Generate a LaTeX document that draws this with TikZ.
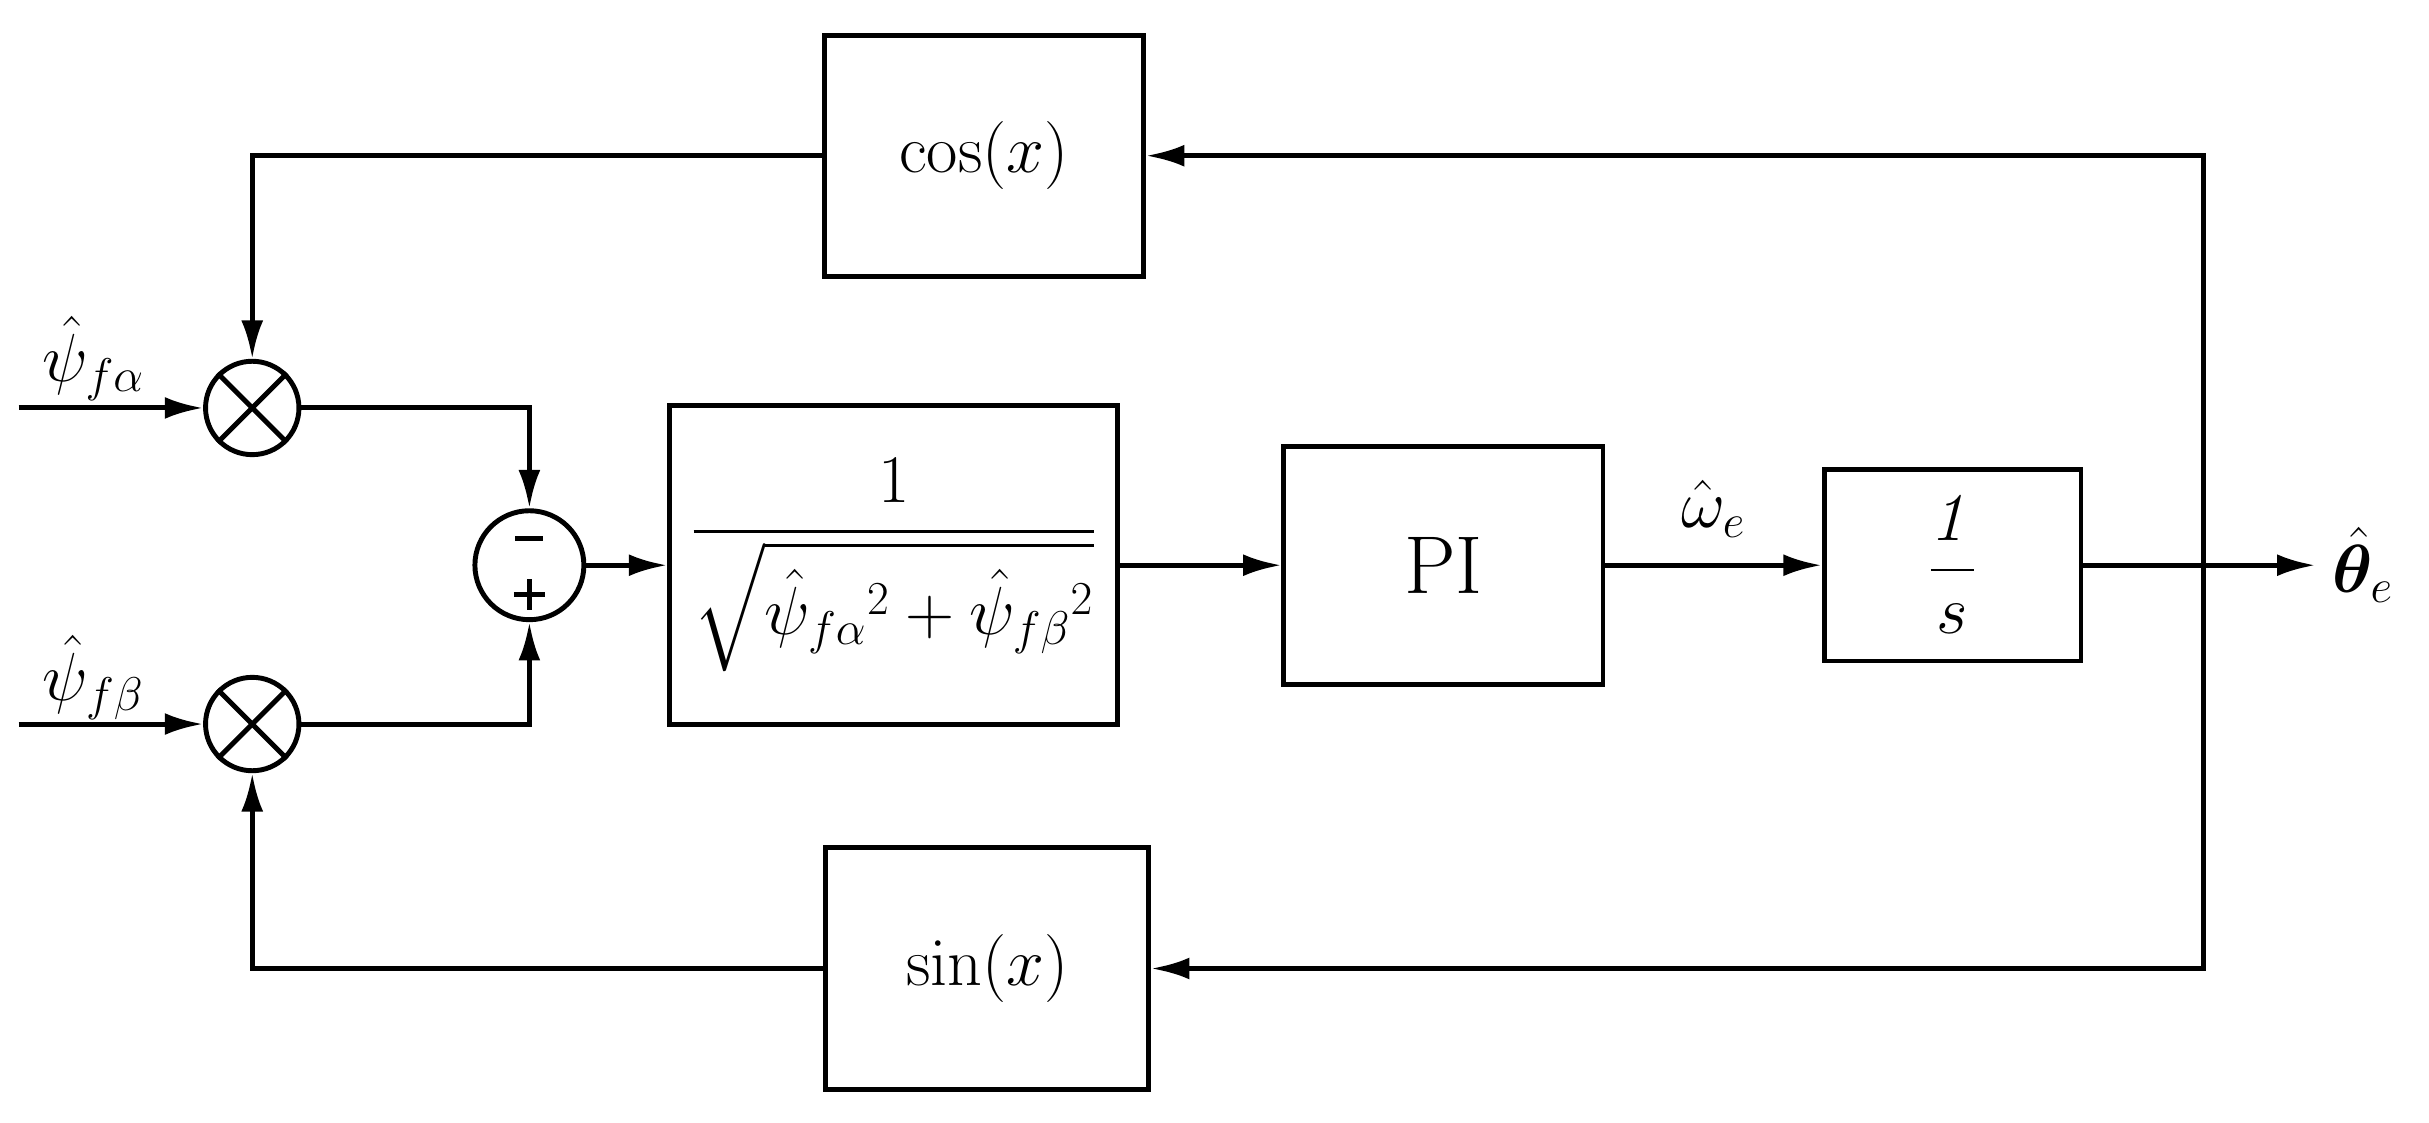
\documentclass[tikz,border=0pt]{standalone}
\usepackage{amsmath,amssymb,bm}
\usetikzlibrary{arrows.meta,calc}
\begin{document}
\begin{tikzpicture}[x=0.02cm,y=-0.02cm,
  line width=1.8pt,
  blk/.style={draw,line width=1.8pt,inner sep=0pt,font=\fontsize{26}{30}\selectfont},
  arr/.style={-{Latex[length=14pt,width=8pt]}},
  lbl/.style={font=\fontsize{26}{30}\selectfont}]
\useasboundingbox (0,0) rectangle (1560,721);
\node[blk,minimum width=4.1cm,minimum height=3.1cm] (cos) at (632,100) {$\cos(x)$};
\node[blk,minimum width=4.15cm,minimum height=3.1cm] (sin) at (634,622) {$\sin(x)$};
\node[blk,minimum width=5.76cm,minimum height=4.1cm] (sq) at (574,363) {$\dfrac{1}{\sqrt{\hat{\psi}_{f\alpha}{}^2+\hat{\psi}_{f\beta}{}^2}}$};
\node[blk,minimum width=4.1cm,minimum height=3.06cm,font=\fontsize{30}{34}\selectfont] (pi) at (927,363) {PI};
\node[blk,minimum width=3.3cm,minimum height=2.46cm] (int) at (1254,363) {$\dfrac{\mathit{1}}{s}$};
\node[draw,circle,minimum size=1.2cm,inner sep=0pt] (m1) at (162,262) {};
\node[draw,circle,minimum size=1.2cm,inner sep=0pt] (m2) at (162,465) {};
\foreach \m in {m1,m2}{
  \draw (\m.45) -- (\m.225); \draw (\m.135) -- (\m.315);}
\node[draw,circle,minimum size=1.4cm,inner sep=0pt] (s) at (340,363) {};
\draw ($(s)+(-9,-17)$) -- ($(s)+(9,-17)$);
\draw ($(s)+(-10,19)$) -- ($(s)+(10,19)$) ($(s)+(0,9)$) -- ($(s)+(0,29)$);
\coordinate (in1) at (12,262); \coordinate (in2) at (12,465);
\coordinate (rt) at (1415,363); \coordinate (out) at (1487,363);
\draw[arr] (in1) -- (m1); \draw[arr] (in2) -- (m2);
\node[lbl] (l1) at (60,230) {$\hat{\psi}_{f\alpha}$};
\node[lbl] (l2) at (60,435) {$\hat{\psi}_{f\beta}$};
\draw[arr] (cos.west) -| (m1.north);
\draw[arr] (sin.west) -| (m2.south);
\draw[arr] (m1.east) -| (s.north);
\draw[arr] (m2.east) -| (s.south);
\draw[arr] (s.east) -- (sq.west);
\draw[arr] (sq.east) -- (pi.west);
\draw[arr] (pi.east) -- node[lbl,above=6pt] (w) {$\hat{\omega}_e$} (int.west);
\draw[arr] (int.east) -- (out);
\node[lbl,right=2pt] (th) at (out) {$\hat{\bm{\theta}}_e$};
\draw[arr] (rt) |- (cos.east);
\draw[arr] (rt) |- (sin.east);
\end{tikzpicture}
\end{document}
